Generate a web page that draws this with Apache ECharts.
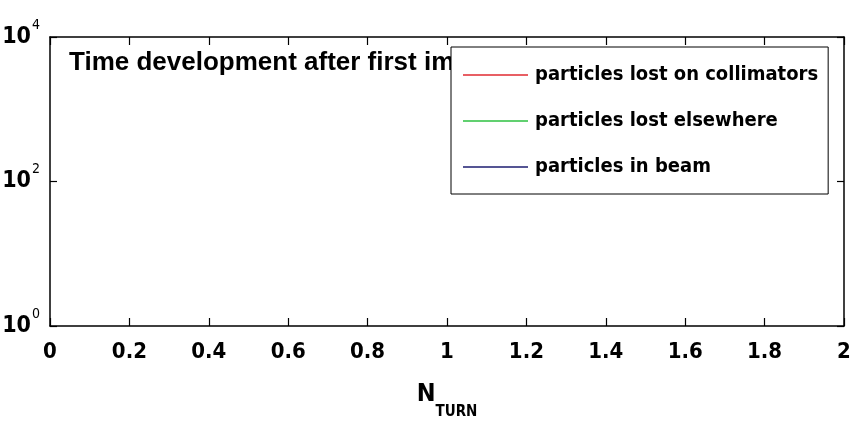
<!DOCTYPE html>
<html>
<head>
<meta charset="utf-8">
<script src="https://cdn.jsdelivr.net/npm/echarts@6/dist/echarts.min.js"></script>
<style>
  html, body { margin: 0; padding: 0; background: #fff; }
  #chart { width: 850px; height: 423px; }
</style>
</head>
<body>
<div id="chart"></div>
<script>
// Series names shown in the legend
const seriesNames = ['particles lost on collimators', 'particles lost elsewhere', 'particles in beam'];
const seriesColors = ['#e02a30', '#2cc040', '#1c1c70'];

// Per-turn particle counts (no recorded turns in this window)
const lostOnCollimators = [];
const lostElsewhere = [];
const inBeam = [];

// Axis ranges and ticks
const xMin = 0, xMax = 2, xStep = 0.2;
const yMin = 1, yMax = 10000;

const annotation = 'Time development after first impact';

const FONT = "'DejaVu Sans Condensed', 'Liberation Sans Narrow', sans-serif";

const chart = echarts.init(document.getElementById('chart'), null, { renderer: 'canvas' });

function xLabel(v) {
  return String(Math.round(v * 10) / 10);
}
function yLabel(v) {
  const e = Math.round(Math.log10(v));
  return '{b|10}{s|' + e + '}';
}

const axisLine = { show: true, onZero: false, lineStyle: { color: '#000', width: 1.5 } };

const option = {
  backgroundColor: '#ffffff',
  animation: false,
  grid: { left: 50, right: 6, top: 37, bottom: 97, outerBoundsMode: 'none', containLabel: false },
  title: {
    text: annotation,
    left: 64,
    top: 45,
    z: 1,
    textStyle: { fontFamily: "'Liberation Sans', Arial, sans-serif", fontSize: 26, fontWeight: 'bold', color: '#000' }
  },
  legend: {
    orient: 'vertical',
    left: 451,
    top: 47,
    z: 10,
    data: seriesNames,
    icon: 'rect',
    itemWidth: 65,
    itemHeight: 1.5,
    itemGap: 20,
    padding: [15, 10, 14, 12],
    backgroundColor: '#ffffff',
    borderColor: '#000',
    borderWidth: 1,
    borderRadius: 0,
    textStyle: { fontFamily: FONT, fontSize: 20, fontWeight: 'bold', color: '#000', lineHeight: 26, padding: [0, 0, 0, 2] }
  },
  xAxis: [
    {
      type: 'value', min: xMin, max: xMax, interval: xStep, position: 'bottom',
      name: '{n|N}{s|TURN}', nameLocation: 'middle', nameGap: 54,
      nameTextStyle: {
        rich: {
          n: { fontFamily: FONT, fontSize: 25, fontWeight: 'bold', color: '#000', lineHeight: 28 },
          s: { fontFamily: FONT, fontSize: 15, fontWeight: 'bold', color: '#000', verticalAlign: 'bottom', padding: [0, 0, -12, 0] }
        }
      },
      axisLine: axisLine,
      axisTick: { show: true, inside: true, length: 8, lineStyle: { color: '#000', width: 1.2 } },
      splitLine: { show: false },
      axisLabel: { formatter: xLabel, margin: 15, fontFamily: FONT, fontSize: 22, fontWeight: 'bold', color: '#000' }
    },
    {
      type: 'value', min: xMin, max: xMax, interval: xStep, position: 'top',
      axisLine: axisLine,
      axisTick: { show: true, inside: true, length: 8, lineStyle: { color: '#000', width: 1.2 } },
      splitLine: { show: false },
      axisLabel: { show: false }
    }
  ],
  yAxis: [
    {
      type: 'log', logBase: 100, min: yMin, max: yMax, position: 'left',
      axisLine: axisLine,
      axisTick: { show: true, inside: true, length: 7, lineStyle: { color: '#000', width: 1.2 } },
      minorTick: { show: false },
      splitLine: { show: false },
      axisLabel: {
        formatter: yLabel, margin: 10,
        rich: {
          b: { fontFamily: FONT, fontSize: 23, fontWeight: 'bold', color: '#000', lineHeight: 26 },
          s: { fontFamily: FONT, fontSize: 14, fontWeight: 'normal', color: '#000', verticalAlign: 'top', padding: [0, 0, 24, 1] }
        }
      }
    },
    {
      type: 'log', logBase: 100, min: yMin, max: yMax, position: 'right',
      axisLine: axisLine,
      axisTick: { show: true, inside: true, length: 7, lineStyle: { color: '#000', width: 1.2 } },
      splitLine: { show: false },
      axisLabel: { show: false }
    }
  ],
  series: [
    { name: seriesNames[0], type: 'line', data: lostOnCollimators, color: seriesColors[0], showSymbol: false, lineStyle: { width: 1 } },
    { name: seriesNames[1], type: 'line', data: lostElsewhere, color: seriesColors[1], showSymbol: false, lineStyle: { width: 1 } },
    { name: seriesNames[2], type: 'line', data: inBeam, color: seriesColors[2], showSymbol: false, lineStyle: { width: 1 } }
  ]
};

chart.setOption(option);
</script>
</body>
</html>
